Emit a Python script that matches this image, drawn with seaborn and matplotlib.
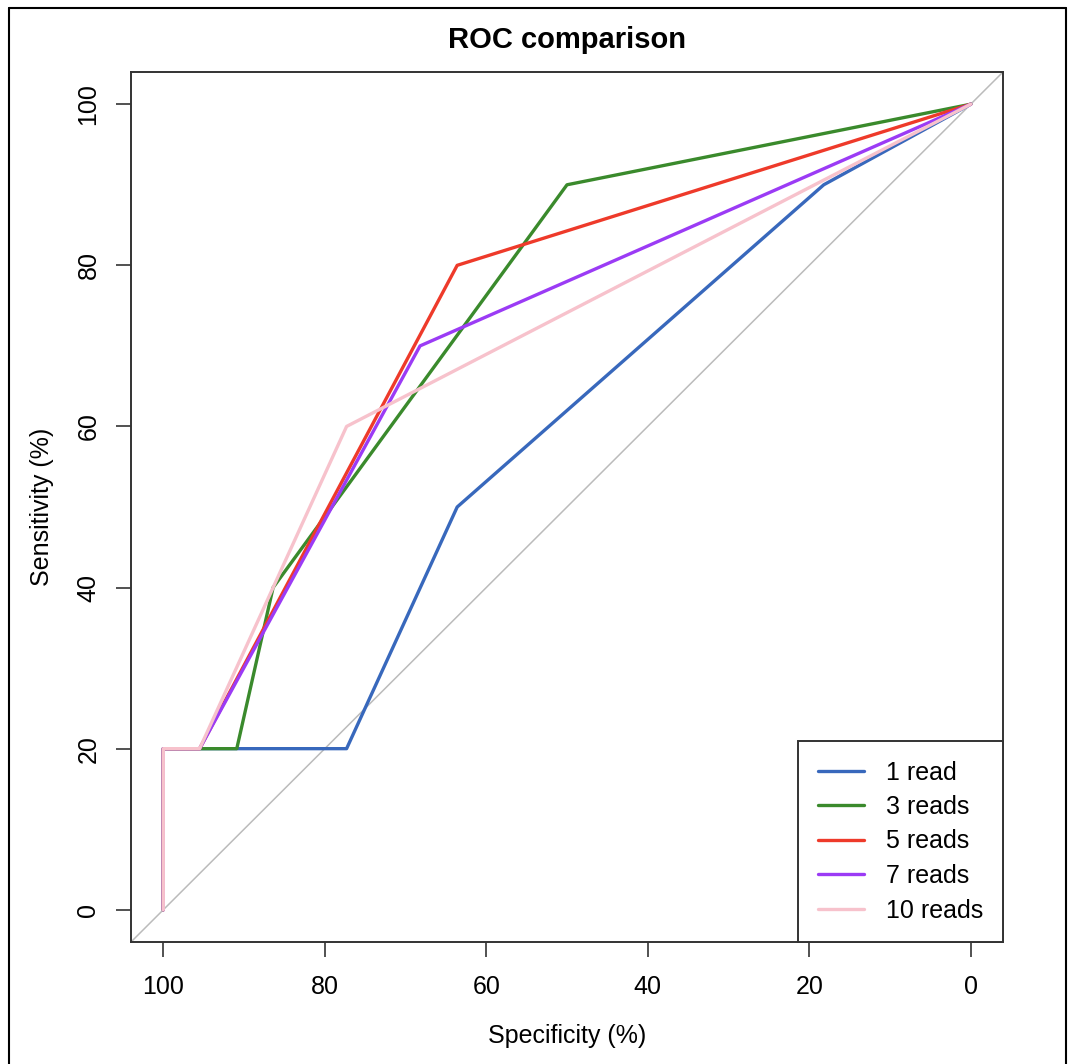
import matplotlib
matplotlib.use("Agg")
import matplotlib.pyplot as plt
from matplotlib.lines import Line2D
import seaborn as sns
import pandas as pd

# ROC points (specificity %, sensitivity %)
spec_1 = [100, 100, 77.3, 63.6, 18.2, 0]
sens_1 = [0, 20, 20, 50, 90, 100]
spec_3 = [100, 100, 90.9, 86.4, 50.0, 0]
sens_3 = [0, 20, 20, 40, 90, 100]
spec_5 = [100, 100, 95.5, 63.6, 0]
sens_5 = [0, 20, 20, 80, 100]
spec_7 = [100, 100, 95.5, 68.2, 0]
sens_7 = [0, 20, 20, 70, 100]
spec_10 = [100, 100, 95.5, 77.3, 0]
sens_10 = [0, 20, 20, 60, 100]

labels = ["1 read", "3 reads", "5 reads", "7 reads", "10 reads"]
colors = ["#3868BC", "#3A8A2C", "#EE3A2A", "#9B3BF5", "#F7C2CC"]

frames = []
for lab, sp, se in zip(labels,
                       [spec_1, spec_3, spec_5, spec_7, spec_10],
                       [sens_1, sens_3, sens_5, sens_7, sens_10]):
    frames.append(pd.DataFrame({"spec": sp, "sens": se, "curve": lab}))
df = pd.concat(frames, ignore_index=True)

sns.set_style("ticks")
plt.rcParams['font.family'] = ['Liberation Sans', 'DejaVu Sans']
plt.rcParams['font.size'] = 18
plt.rcParams['text.color'] = 'black'
plt.rcParams['axes.labelcolor'] = 'black'
plt.rcParams['xtick.labelcolor'] = 'black'
plt.rcParams['ytick.labelcolor'] = 'black'

fig = plt.figure(figsize=(10.68, 10.64), dpi=100)
ax = fig.add_axes([131/1068, 1 - 942/1064, 872/1068, 870/1064])

# chance diagonal
ax.plot([104, -4], [-4, 104], color="#BBBBBB", lw=1.1, zorder=1)

sns.lineplot(data=df, x="spec", y="sens", hue="curve", hue_order=labels,
             palette=colors, sort=False, estimator=None, units="curve",
             lw=2.4, ax=ax, legend=False, zorder=2)

ax.set_xlim(104, -4)
ax.set_ylim(-4, 104)
ax.set_xticks([100, 80, 60, 40, 20, 0])
ax.set_yticks([0, 20, 40, 60, 80, 100])
ax.set_yticklabels(["0", "20", "40", "60", "80", "100"], rotation=90, va="center")
ax.tick_params(axis="both", length=11, width=1.2, color="#333333", labelsize=18)
ax.tick_params(axis="x", pad=13)
ax.tick_params(axis="y", pad=11)
for s in ax.spines.values():
    s.set_linewidth(1.4)
    s.set_color("#333333")

ax.set_xlabel("Specificity (%)", fontsize=18, labelpad=18)
ax.set_ylabel("Sensitivity (%)", fontsize=18, labelpad=16)
ax.set_title("ROC comparison", fontsize=21, fontweight="bold", pad=17)

handles = [Line2D([0], [0], color=c, lw=2.4) for c in colors]
leg = ax.legend(handles, labels, loc="lower right", borderaxespad=0,
                fancybox=False, frameon=True, edgecolor="#333333",
                handlelength=1.85, handletextpad=0.9, labelspacing=0.42,
                borderpad=0.78, fontsize=18)
leg.get_frame().set_linewidth(1.4)
leg.get_frame().set_alpha(1)

# outer frame of the screenshot (no bottom edge)
fx0, fx1, fy1 = 8.5/1068, 1065.5/1068, 1 - 7.5/1064
for xs, ys in [([fx0, fx0], [0, fy1]), ([fx0, fx1], [fy1, fy1]), ([fx1, fx1], [fy1, 0])]:
    fig.add_artist(Line2D(xs, ys, color="black", lw=1.5, transform=fig.transFigure))

fig.savefig("out.png", dpi=100)
